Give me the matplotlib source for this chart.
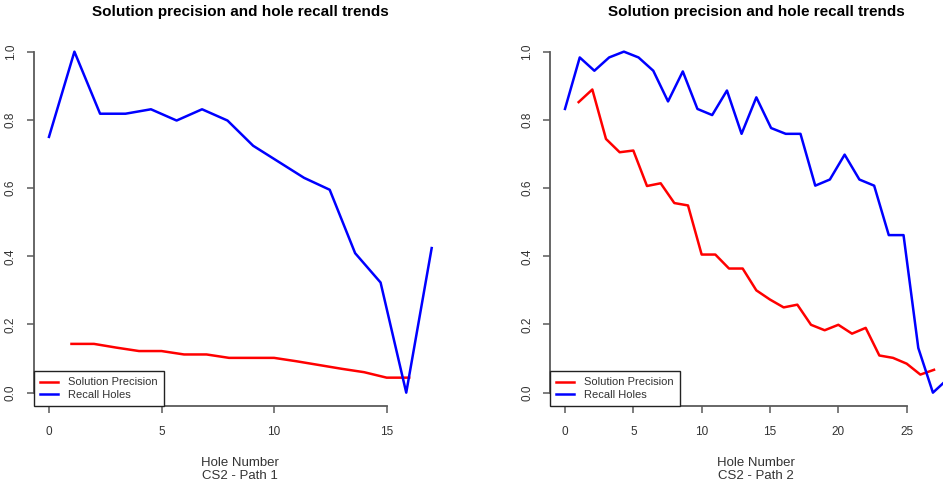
import matplotlib
matplotlib.use("Agg")
import matplotlib.pyplot as plt

plt.rcParams["font.family"] = ["Liberation Sans", "DejaVu Sans"]

TITLE = "Solution precision and hole recall trends"
LEGEND_LABELS = ["Solution Precision", "Recall Holes"]

# Path 1
p1_precision_x = [1, 2, 3, 4, 5, 6, 7, 8, 9, 10, 11, 12, 13, 14, 15, 16]
p1_precision = [0.143, 0.143, 0.132, 0.122, 0.122, 0.112, 0.112, 0.102,
                0.102, 0.102, 0.092, 0.081, 0.07, 0.06, 0.044, 0.044]
p1_recall_x = [0, 1.13, 2.27, 3.4, 4.53, 5.67, 6.8, 7.93, 9.07, 10.2,
               11.33, 12.47, 13.6, 14.73, 15.87, 17.0]
p1_recall = [0.75, 1.0, 0.818, 0.818, 0.831, 0.798, 0.831, 0.798, 0.724,
             0.677, 0.63, 0.595, 0.409, 0.323, 0.0, 0.424]
p1_xticks = [0, 5, 10, 15]

# Path 2
p2_precision_x = list(range(1, 28))
p2_precision = [0.852, 0.889, 0.744, 0.705, 0.71, 0.606, 0.614, 0.556, 0.549,
                0.405, 0.405, 0.364, 0.364, 0.3, 0.273, 0.25, 0.258, 0.199,
                0.183, 0.199, 0.173, 0.19, 0.109, 0.102, 0.085, 0.053, 0.067]
p2_recall_x = [0, 1.08, 2.15, 3.23, 4.31, 5.38, 6.46, 7.54, 8.62, 9.69, 10.77,
               11.85, 12.92, 14.0, 15.08, 16.15, 17.23, 18.31, 19.38, 20.46,
               21.54, 22.62, 23.69, 24.77, 25.85, 26.92, 28.0]
p2_recall = [0.832, 0.983, 0.944, 0.983, 1.0, 0.983, 0.944, 0.854, 0.942,
             0.832, 0.814, 0.886, 0.759, 0.866, 0.776, 0.759, 0.759, 0.607,
             0.625, 0.698, 0.625, 0.607, 0.462, 0.462, 0.131, 0.0, 0.04]
p2_xticks = [0, 5, 10, 15, 20, 25]

yticks = [0.0, 0.2, 0.4, 0.6, 0.8, 1.0]

AXIS_COLOR = "#5a5a5a"
TEXT_COLOR = "#333333"


def draw_panel(ax, prec_x, prec, rec_x, rec, xticks, xlim, subtitle):
    ax.plot(prec_x, prec, color="#ff0000", lw=1.8, label=LEGEND_LABELS[0])
    ax.plot(rec_x, rec, color="#0000ff", lw=1.8, label=LEGEND_LABELS[1])
    ax.set_xlim(*xlim)
    ax.set_ylim(-0.04, 1.04)

    for side in ("top", "right"):
        ax.spines[side].set_visible(False)
    ax.spines["left"].set_bounds(0, 1)
    ax.spines["bottom"].set_bounds(xticks[0], xticks[-1])
    for side in ("left", "bottom"):
        ax.spines[side].set_color(AXIS_COLOR)
        ax.spines[side].set_linewidth(1.3)

    ax.set_xticks(xticks)
    ax.set_xticklabels([str(t) for t in xticks])
    ax.set_yticks(yticks)
    ax.set_yticklabels([f"{t:.1f}" for t in yticks], rotation=90, va="center")
    ax.tick_params(axis="both", length=5, width=1.1, color=AXIS_COLOR,
                   labelcolor=TEXT_COLOR, labelsize=8.5)
    ax.tick_params(axis="x", pad=9.5)
    ax.tick_params(axis="y", pad=7)

    ax.set_title(TITLE, fontsize=11, fontweight="bold", pad=16)
    ax.text(0.5, -0.138, "Hole Number\n" + subtitle, transform=ax.transAxes,
            ha="center", va="top", fontsize=9.5, color=TEXT_COLOR,
            linespacing=1.1)

    leg = ax.legend(loc="lower left", bbox_to_anchor=(0, 0), borderaxespad=0,
                    fontsize=8, handlelength=1.6, handletextpad=0.9,
                    labelspacing=0.2, borderpad=0.6, fancybox=False,
                    framealpha=1, edgecolor="#222222")
    leg.get_frame().set_linewidth(1.0)
    for text in leg.get_texts():
        text.set_color(TEXT_COLOR)


fig = plt.figure(figsize=(9.43, 4.86), dpi=100)
ax1 = fig.add_axes([0.0357, 0.164, 0.4383, 0.7578])
ax2 = fig.add_axes([0.5829, 0.164, 0.4383, 0.7578])

draw_panel(ax1, p1_precision_x, p1_precision, p1_recall_x, p1_recall,
           p1_xticks, (-0.68, 17.68), "CS2 - Path 1")
draw_panel(ax2, p2_precision_x, p2_precision, p2_recall_x, p2_recall,
           p2_xticks, (-1.12, 29.12), "CS2 - Path 2")

fig.savefig("out.png", dpi=100)
